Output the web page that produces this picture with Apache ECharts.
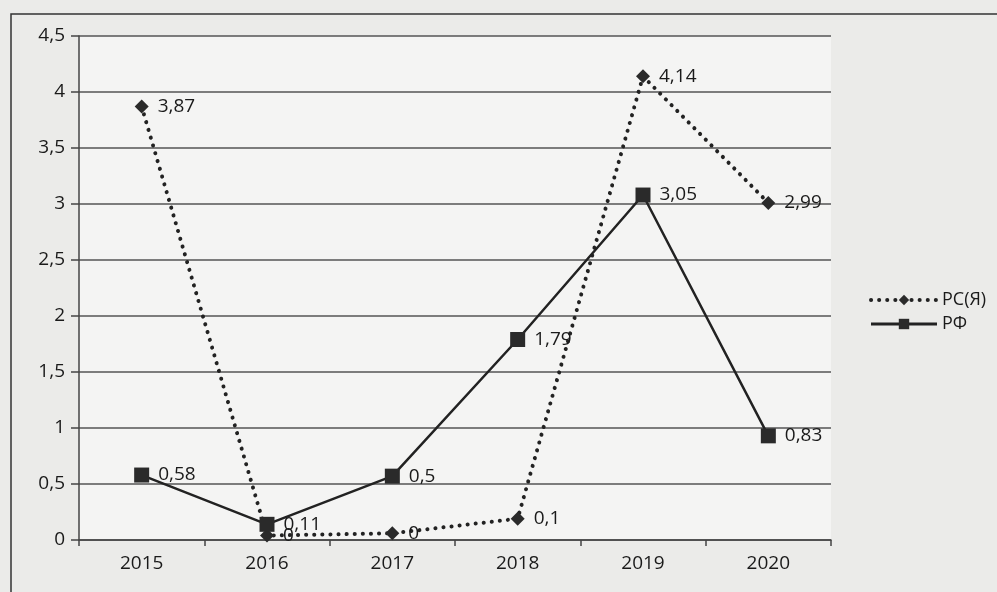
<!DOCTYPE html>
<html><head><meta charset="utf-8">
<script src="https://cdn.jsdelivr.net/npm/echarts@6/dist/echarts.min.js"></script>
<style>html,body{margin:0;padding:0;background:#e9e9e7;}#c{width:997px;height:592px;}</style>
</head><body><div id="c"></div>
<script>
const categories = ['2015','2016','2017','2018','2019','2020'];
const rsValues = [3.87, 0.04, 0.06, 0.19, 4.14, 3.01];
const rsLabels = ['3,87','0','0','0,1','4,14','2,99'];
const rfValues = [0.58, 0.14, 0.57, 1.79, 3.08, 0.93];
const rfLabels = ['0,58','0,11','0,5','1,79','3,05','0,83'];
const yTicks = [0,0.5,1,1.5,2,2.5,3,3.5,4,4.5];

const chart = echarts.init(document.getElementById('c'));
const font = 'Open Sans, Liberation Sans, sans-serif';
const dotted = {color: '#222', width: 4, type: [0.1, 8], cap: 'round'};
chart.setOption({
  backgroundColor: '#ebebe9',
  animation: false,
  grid: {left: 79, right: 166, top: 36, bottom: 52, show: true, backgroundColor: '#f4f4f3', borderColor: '#444', borderWidth: 0},
  graphic: [{type:'rect', shape:{x:11, y:14, width:1000, height:600}, style:{fill:'none', stroke:'#333', lineWidth:1.5}, z:-1}],
  legend: {
    orient: 'vertical', left: 864, top: 286, itemGap: 6, itemWidth: 66, itemHeight: 13,
    textStyle: {fontFamily: font, fontSize: 18, color: '#1a1a1a'},
    data: [
      {name: 'РС(Я)', lineStyle: dotted},
      {name: 'РФ', lineStyle: {color: '#222', width: 3}}
    ]
  },
  xAxis: {
    type: 'category', data: categories, boundaryGap: true,
    axisLine: {lineStyle: {color: '#444', width: 1.5}},
    axisTick: {show: true, length: 6, lineStyle: {color: '#444', width: 1.5}},
    axisLabel: {fontFamily: font, fontSize: 19, color: '#1a1a1a', margin: 14}
  },
  yAxis: {
    type: 'value', min: 0, max: 4.5, interval: 0.5,
    axisLine: {show: true, lineStyle: {color: '#444', width: 1.5}},
    axisTick: {show: true, length: 8, lineStyle: {color: '#444', width: 1.5}},
    splitLine: {lineStyle: {color: '#555', width: 1.5}},
    axisLabel: {fontFamily: font, fontSize: 19, color: '#1a1a1a', margin: 14,
      formatter: v => yTicks.includes(v) ? String(v).replace('.', ',') : ''}
  },
  series: [
    {
      name: 'РС(Я)', type: 'line', data: rsValues,
      symbol: 'diamond', symbolSize: 14, itemStyle: {color: '#2a2a2a'},
      lineStyle: dotted,
      label: {show: true, position: 'right', distance: 9, fontFamily: font, fontSize: 19, color: '#1a1a1a',
        formatter: p => rsLabels[p.dataIndex]}
    },
    {
      name: 'РФ', type: 'line', data: rfValues,
      symbol: 'rect', symbolSize: 15, itemStyle: {color: '#2a2a2a'},
      lineStyle: {color: '#222', width: 2.5},
      label: {show: true, position: 'right', distance: 9, fontFamily: font, fontSize: 19, color: '#1a1a1a',
        formatter: p => rfLabels[p.dataIndex]}
    }
  ]
});
</script></body></html>
